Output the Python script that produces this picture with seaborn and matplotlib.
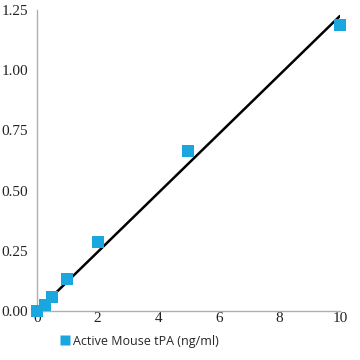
import numpy as np
import pandas as pd
import seaborn as sns
import matplotlib.pyplot as plt

# Standard curve values
concentration = [0, 0.25, 0.5, 1, 2, 5, 10]
absorbance = [0.0, 0.025, 0.058, 0.133, 0.287, 0.665, 1.19]
x_ticks = [0, 2, 4, 6, 8, 10]
y_ticks = [0.0, 0.25, 0.5, 0.75, 1.0, 1.25]
series_name = 'Active Mouse tPA (ng/ml)'

curve = pd.DataFrame({'conc': concentration, 'od': absorbance})

# Linear trendline through the origin
slope = np.sum(curve['conc'] * curve['od']) / np.sum(curve['conc'] ** 2)
fit = pd.DataFrame({'conc': [0, 10]})
fit['od'] = slope * fit['conc']

sns.set_style('white')
fig = plt.figure(figsize=(3.6, 3.6), dpi=100)
ax = fig.add_axes([0.103, 0.136, 0.841, 0.836])

sns.lineplot(data=fit, x='conc', y='od', color='black', linewidth=1.8, ax=ax)
sns.scatterplot(data=curve, x='conc', y='od', marker='s', s=75, color='#1aa7df',
                edgecolor='none', ax=ax, zorder=3, clip_on=False)

ax.set_xlim(0, 10)
ax.set_ylim(0, 1.25)
ax.set_xticks(x_ticks)
ax.set_yticks(y_ticks)
ax.set_xticklabels([str(t) for t in x_ticks])
ax.set_yticklabels([f'{t:.2f}' for t in y_ticks])
ax.set_xlabel('')
ax.set_ylabel('')

for side in ['top', 'right']:
    ax.spines[side].set_visible(False)
for side in ['left', 'bottom']:
    ax.spines[side].set_color('#b0b0b0')
    ax.spines[side].set_linewidth(1)

for lab in ax.get_xticklabels() + ax.get_yticklabels():
    lab.set_family('Liberation Serif')
    lab.set_fontsize(11)
    lab.set_color('#222222')
ax.tick_params(axis='x', direction='in', length=7, color='#b0b0b0', pad=1)
ax.tick_params(axis='y', direction='out', length=6, color='#b0b0b0', pad=0.5)

handle = plt.Line2D([], [], marker='s', linestyle='none', markersize=7,
                    markerfacecolor='#1aa7df', markeredgecolor='none')
fig.legend([handle], [series_name], loc='center left', bbox_to_anchor=(0.145, 0.052),
           frameon=False, handletextpad=0.2, borderpad=0, handlelength=1.0,
           prop={'family': 'Open Sans', 'size': 9})

fig.savefig('out.png', dpi=100)
